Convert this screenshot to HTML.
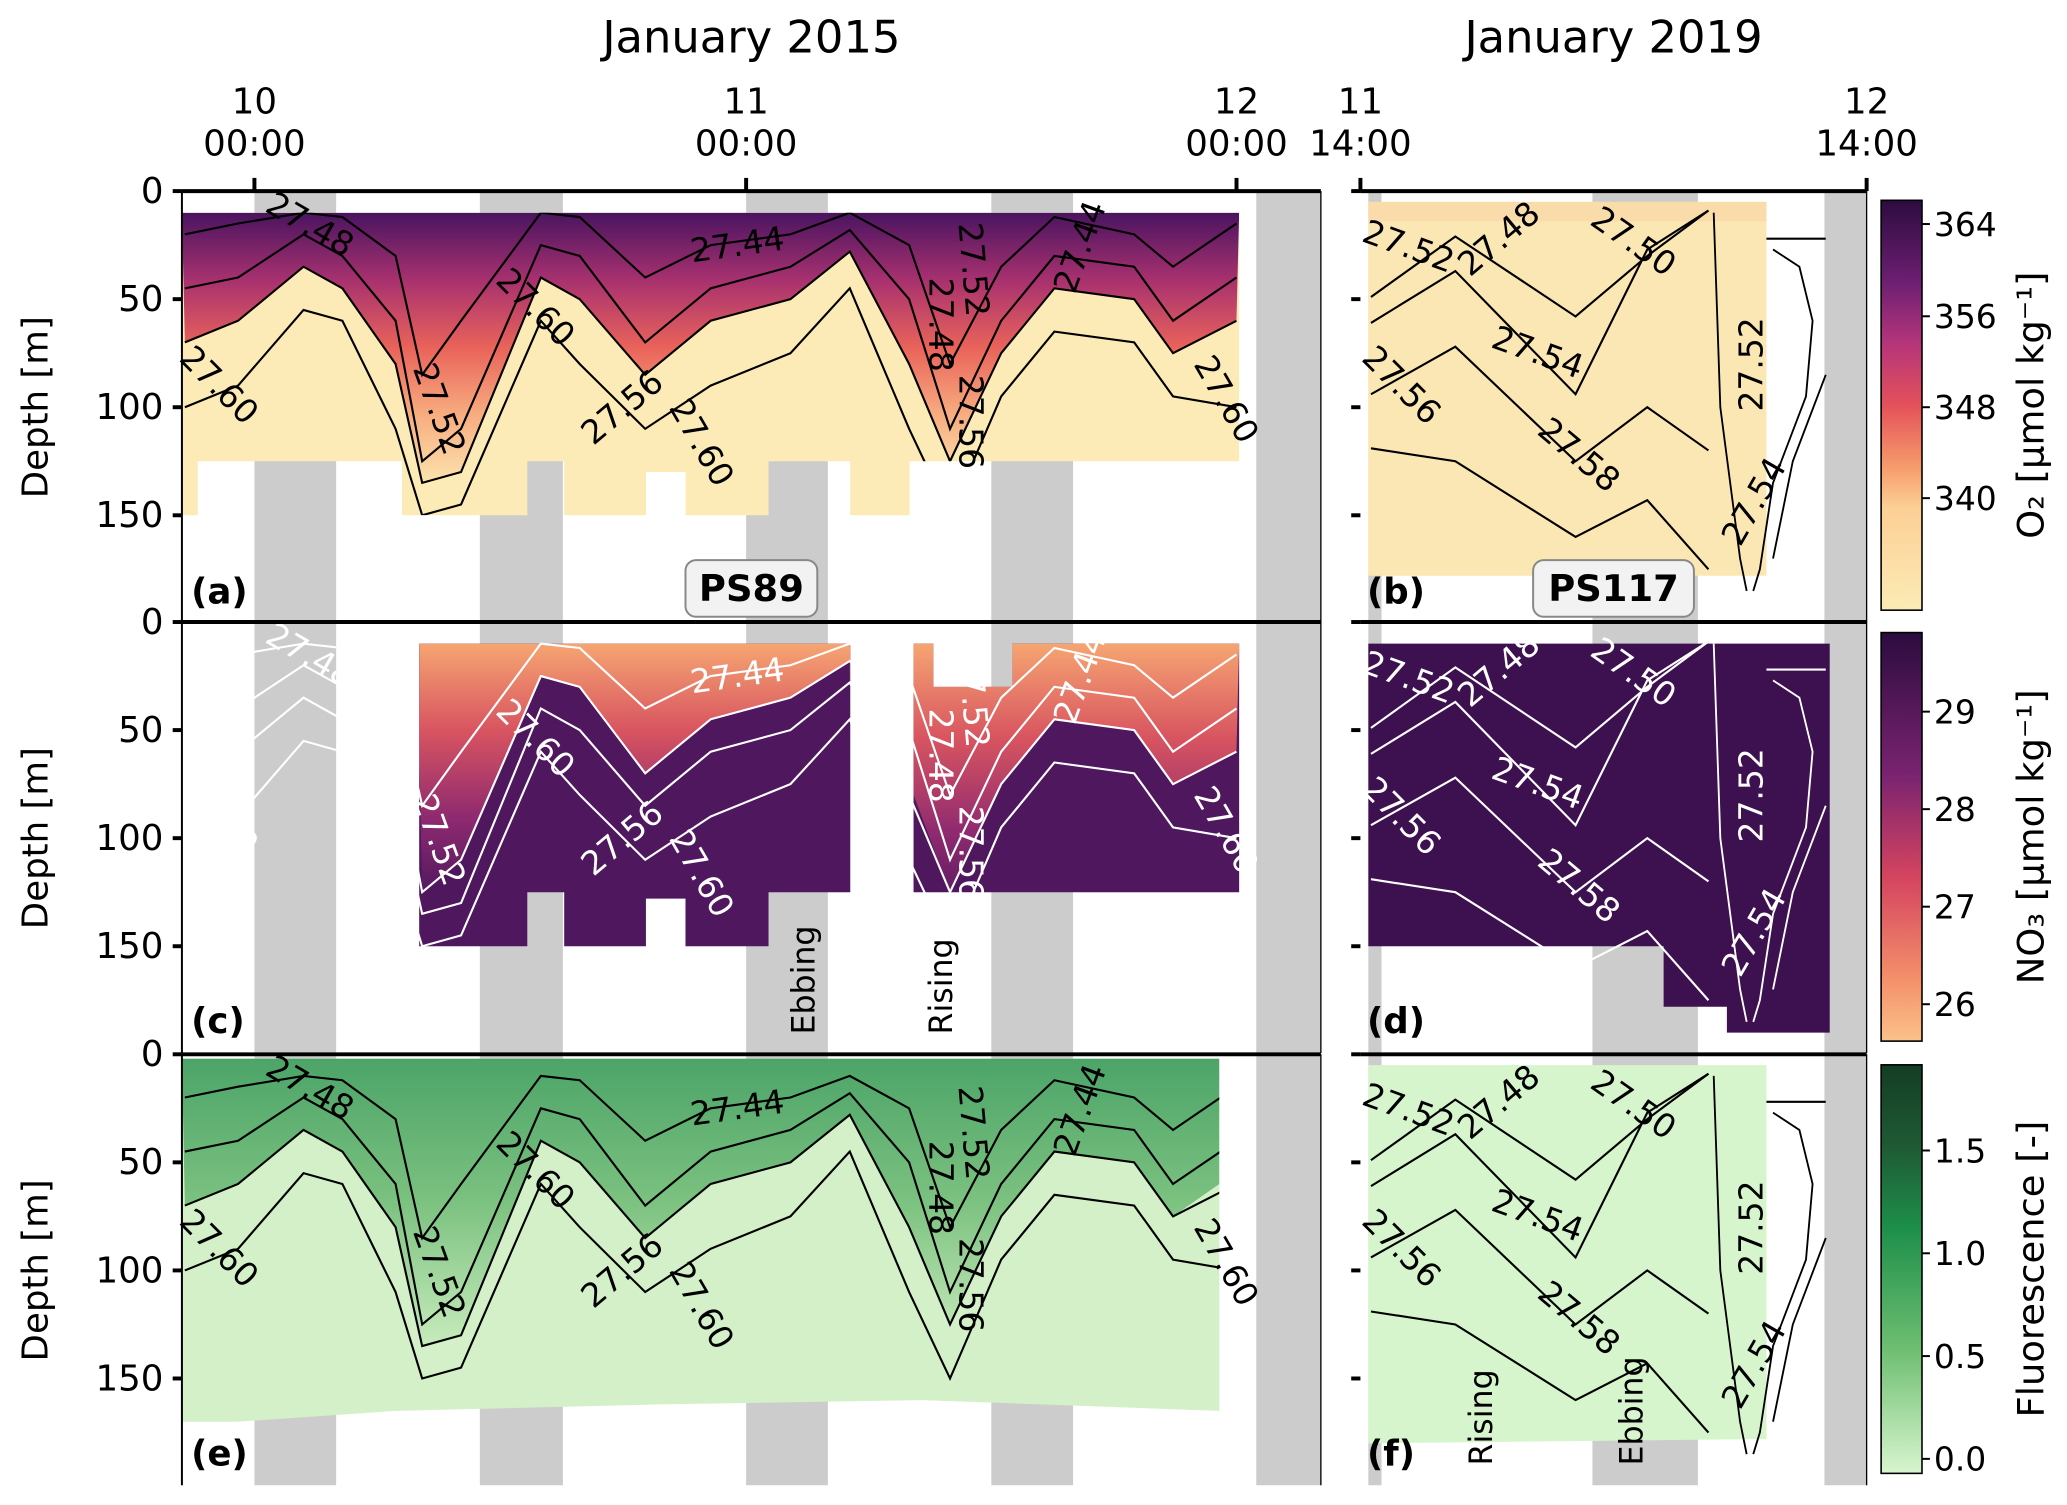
<!DOCTYPE html>
<html><head><meta charset="utf-8"><style>
html,body{margin:0;padding:0;background:#fff;}
svg{display:block;font-family:"DejaVu Sans","Liberation Sans",sans-serif;}
</style></head><body>
<svg id="fig" width="2067" height="1505" viewBox="0 0 1568 1142" preserveAspectRatio="none" xmlns="http://www.w3.org/2000/svg">
<defs>
<linearGradient id="gO2" x1="0" y1="0" x2="0" y2="1">
<stop offset="0" stop-color="#4a1460"/><stop offset="0.25" stop-color="#a8316f"/><stop offset="0.5" stop-color="#e9635a"/><stop offset="0.75" stop-color="#f8ad80"/><stop offset="1" stop-color="#fbe3ad"/></linearGradient>
<linearGradient id="gNO3" x1="0" y1="0" x2="0" y2="1">
<stop offset="0" stop-color="#f6a572"/><stop offset="0.35" stop-color="#d85460"/><stop offset="0.7" stop-color="#8f2a70"/><stop offset="1" stop-color="#531860"/></linearGradient>
<linearGradient id="gFl" x1="0" y1="0" x2="0" y2="1">
<stop offset="0" stop-color="#2a9150"/><stop offset="0.5" stop-color="#66b66e"/><stop offset="1" stop-color="#c4eab9"/></linearGradient>
<linearGradient id="cbO2" x1="0" y1="0" x2="0" y2="1">
<stop offset="0" stop-color="#2c0c3f"/><stop offset="0.2" stop-color="#6d1f72"/><stop offset="0.35" stop-color="#b5357a"/><stop offset="0.5" stop-color="#e4515a"/><stop offset="0.65" stop-color="#f69b6b"/><stop offset="0.75" stop-color="#fccf95"/><stop offset="1" stop-color="#fcebb5"/></linearGradient>
<linearGradient id="cbNO3" x1="0" y1="0" x2="0" y2="1">
<stop offset="0" stop-color="#2c0c3f"/><stop offset="0.35" stop-color="#7a2370"/><stop offset="0.6" stop-color="#d5445f"/><stop offset="0.85" stop-color="#f4906a"/><stop offset="1" stop-color="#fbc28a"/></linearGradient>
<linearGradient id="cbFl" x1="0" y1="0" x2="0" y2="1">
<stop offset="0" stop-color="#143d24"/><stop offset="0.2" stop-color="#1f5a34"/><stop offset="0.4" stop-color="#1d8f4a"/><stop offset="0.7" stop-color="#6fbf72"/><stop offset="1" stop-color="#d8f5cf"/></linearGradient>
</defs>
<g id="root"></g>
</svg>
<script>
// ---- data ----
const tL = [-3.4,-0.8,2.4,4.3,6.9,8.2,10.1,14,15.9,19.1,22.3,26.2,29.1,32,34,36.5,39.1,43,44.9,48];
const iso48 = [20,15,10,12,30,85,60,10,12,40,25,20,10,25,80,35,12,20,35,15];
const iso52 = [45,40,20,30,60,125,110,25,30,70,45,35,18,50,110,60,30,35,60,40];
const iso56 = [70,60,35,45,80,135,130,40,50,85,60,50,28,80,125,75,45,50,75,60];
const iso60 = [100,90,55,60,110,150,145,60,80,110,90,75,45,110,150,95,65,70,95,100];
const tR = [0.5,4.5,10.2,13.6,16.5];
const r50 = [49,21,58,30,9];
const r52 = [61,37,94,27,9];
const r54 = [94,72,125,100,120];
const r58 = [119,125,160,143,175];
const yTicks = [0,50,100,150];
const cbO2Ticks = ["364","356","348","340"];
const cbNO3Ticks = ["29","28","27","26"];
const cbFlTicks = ["1.5","1.0","0.5","0.0"];

const NS="http://www.w3.org/2000/svg";
const root=document.getElementById('root');
function el(tag,attrs,parent){const e=document.createElementNS(NS,tag);for(const k in attrs)e.setAttribute(k,attrs[k]);(parent||root).appendChild(e);return e;}
const xL=h=>193+h*15.52;
const xR=h=>1032+h*16;
const rows=[145,472,800];
const yD=(r,d)=>rows[r]+d*1.64;

function line(pts,color,w,name){const p=el('polyline',{points:pts.map(q=>q.join(',')).join(' '),fill:'none',stroke:color,'stroke-width':w});return p;}
function txt(x,y,s,size,opts){const t=el('text',Object.assign({x:x,y:y,'font-size':size},opts||{}));t.textContent=s;return t;}

// gray bands
const bandsL=[[193,255],[364,427],[566,628],[752,814],[953,1002]];
const bandsR=[[1038,1048],[1208,1288],[1384,1416]];
rows.forEach((y0,r)=>{
  bandsL.concat(bandsR).forEach(b=>{const g=el('rect',{x:b[0],y:y0,width:b[1]-b[0],height:327,fill:'#cccccc'});
  });
});

const botA=[[138,150],[150,125],[305,150],[400,125],[428,150],[490,130],[520,150],[583,125],[645,150],[690,125],[940,125]];
function stepPoly(r,x0,x1,topD,bot){let pts=[[x0,yD(r,topD)],[x1,yD(r,topD)]];
  for(let i=bot.length-1;i>=0;i--){const xa=bot[i][0],xb=i<bot.length-1?bot[i+1][0]:x1;pts.push([Math.min(xb,x1),yD(r,bot[i][1])],[Math.max(xa,x0),yD(r,bot[i][1])]);}
  return pts.filter(p=>p[0]>=x0&&p[0]<=x1);}
function poly(pts,fill,name){const p=el('polygon',{points:pts.map(q=>q.join(',')).join(' '),fill:fill});return p;}
function isoFill(r,iso,topD,xmin,xmax){const pts=[];tL.forEach((t,i)=>{const x=Math.max(xmin,Math.min(xmax,xL(t)));pts.push([x,yD(r,iso[i])]);});
  pts.push([xmax,yD(r,topD)],[xmin,yD(r,topD)]);return pts;}
function clip(id,pts){const c=el('clipPath',{id:id});el('polygon',{points:pts.map(q=>q.join(',')).join(' ')},c);}

// Panel a
const pa=stepPoly(0,138,940,10,botA);
clip('cA',pa);
poly(pa,'#fcebb6','o2-field-a');
const fa=poly(isoFill(0,iso56,10,138,940),'url(#gO2)','o2-upper-a');fa.setAttribute('clip-path','url(#cA)');
// Panel c
const botC1=[[318,150],[400,125],[428,150],[490,128],[520,150],[583,125],[645,125]];
const pc1=stepPoly(1,318,645,10,botC1);
const pc2=[[693,yD(1,10)],[708,yD(1,10)],[708,yD(1,30)],[768,yD(1,30)],[768,yD(1,10)],[940,yD(1,10)],[940,yD(1,125)],[693,yD(1,125)]];
clip('cC1',pc1);clip('cC2',pc2);
poly(pc1,'#4e175e','no3-field-c1');poly(pc2,'#4e175e','no3-field-c2');
let f=poly(isoFill(1,iso52,10,318,645),'url(#gNO3)','no3-upper-c1');f.setAttribute('clip-path','url(#cC1)');
f=poly(isoFill(1,iso56,10,693,940),'url(#gNO3)','no3-upper-c2');f.setAttribute('clip-path','url(#cC2)');
// Panel e
const pe=[[138,yD(2,2)],[925,yD(2,2)],[925,yD(2,165)],[700,yD(2,160)],[500,yD(2,162)],[300,yD(2,165)],[180,yD(2,170)],[138,yD(2,170)]];
clip('cE',pe);
poly(pe,'#d3f0c8','fluor-field-e');
f=poly(isoFill(2,iso56,2,138,925),'url(#gFl)','fluor-upper-e');f.setAttribute('clip-path','url(#cE)');f.setAttribute('opacity','0.8');
// right panels
poly([[1038,yD(0,5)],[1340,yD(0,5)],[1340,yD(0,178)],[1038,yD(0,178)]],'#fbe7b3','o2-field-b');
poly([[1038,yD(0,5)],[1340,yD(0,5)],[1340,yD(0,14)],[1038,yD(0,14)]],'#fadcaa','o2-top-b');
poly([[1038,yD(1,10)],[1388,yD(1,10)],[1388,yD(1,190)],[1310,yD(1,190)],[1310,yD(1,178)],[1262,yD(1,178)],[1262,yD(1,150)],[1038,yD(1,150)]],'#3d1150','no3-field-d');
poly([[1038,yD(2,5)],[1340,yD(2,5)],[1340,yD(2,178)],[1038,yD(2,180)]],'#d6f5cc','fluor-field-f');

// contours
const colL=['#000','#fff','#000'];
[0,1,2].forEach(r=>{
  const cp=r===0?'url(#cA)':r===2?'url(#cE)':null;
  [iso48,iso52,iso56,iso60].forEach((iso,k)=>{
    const pts=tL.map((t,i)=>[xL(t),yD(r,iso[i])]);
    const l=line(pts,colL[r],1.6,'isopycnal-left');
    if(cp)l.setAttribute('clip-path',cp);
  });
  [r50,r52,r54,r58].forEach(iso=>{
    line(tR.map((t,i)=>[xR(t),yD(r,iso[i])]),colL[r],1.6,'isopycnal-right');
  });
  line([[1340,yD(r,22)],[1385,yD(r,22)]],colL[r],1.6,'isopycnal-right-edge');
  line([[1345,yD(r,27)],[1365,yD(r,35)],[1375,yD(r,60)],[1370,yD(r,95)],[1345,yD(r,135)],[1335,yD(r,175)],[1330,yD(r,185)]],colL[r],1.4,'isopycnal-right-edge');
  line([[1385,yD(r,85)],[1360,yD(r,125)],[1345,yD(r,170)]],colL[r],1.4,'isopycnal-right-edge');
  line([[1300,yD(r,10)],[1305,yD(r,100)],[1320,yD(r,170)],[1325,yD(r,185)]],colL[r],1.4,'isopycnal-right-edge');
  const lc=colL[r];
  const L=[[525,33,'27.44',-8],[200,9,'27.48',30],[135,78,'27.60',45],[313,82,'27.52',70],[375,42,'27.60',45],[450,118,'27.56',-40],[507,100,'27.60',60],[705,40,'27.48',90],[727,15,'27.52',85],[728,85,'27.56',90],[905,80,'27.60',60],[815,48,'27.44',-70],
           [1032,23,'27.52',20],[1115,40,'27.48',-40],[1205,15,'27.50',35],[1130,72,'27.54',20],[1032,78,'27.56',45],[1165,112,'27.58',40],[1337,102,'27.52',-90],[1320,165,'27.54',-60]];
  L.forEach(a=>{const y=yD(r,a[1]);const t=txt(a[0],y,a[2],25,{fill:lc,transform:`rotate(${a[3]} ${a[0]} ${y})`});
    });
});

// axes and spines
rows.forEach((y0,r)=>{
  el('line',{x1:138,y1:y0,x2:1002,y2:y0,stroke:'#000','stroke-width':3});
  el('line',{x1:1032,y1:y0,x2:1416,y2:y0,stroke:'#000','stroke-width':3});
  el('line',{x1:138,y1:y0,x2:138,y2:y0+327,stroke:'#000','stroke-width':1.5});
  el('line',{x1:1002,y1:y0,x2:1002,y2:y0+327,stroke:'#000','stroke-width':1});
  el('line',{x1:1416,y1:y0,x2:1416,y2:y0+327,stroke:'#000','stroke-width':1});
  yTicks.forEach(v=>{const y=yD(r,v);
    el('line',{x1:131,y1:y,x2:138,y2:y,stroke:'#000','stroke-width':3});
    el('line',{x1:1025,y1:y,x2:1032,y2:y,stroke:'#000','stroke-width':3});
    const t=txt(124,y+9,String(v),27,{'text-anchor':'end'});});
  const yl=txt(36,y0+164,'Depth [m]',27,{'text-anchor':'middle',transform:`rotate(-90 36 ${y0+164})`});
  
});
[['(a)',145,458],['(b)',1037,458],['(c)',145,784],['(d)',1037,784],['(e)',145,1112],['(f)',1037,1112]].forEach(a=>{
  const t=txt(a[1],a[2],a[0],27,{'font-weight':'bold'});});
[[520,620,'PS89'],[1163,1285,'PS117']].forEach(b=>{
  const g=el('rect',{x:b[0],y:425,width:b[1]-b[0],height:43,rx:8,fill:'#f2f2f2',stroke:'#888','stroke-width':1.5});
  
  txt((b[0]+b[1])/2,456,b[2],28,{'text-anchor':'middle','font-weight':'bold'});
});
[[618,785,'Ebbing'],[722,785,'Rising'],[1132,1112,'Rising'],[1246,1112,'Ebbing']].forEach(a=>{
  const t=txt(a[0],a[1],a[2],24,{transform:`rotate(-90 ${a[0]} ${a[1]})`});});
[[193,'10'],[566,'11'],[938,'12']].forEach(a=>{
  el('line',{x1:a[0],y1:135,x2:a[0],y2:145,stroke:'#000','stroke-width':3});
  txt(a[0],86,a[1],27,{'text-anchor':'middle'});txt(a[0],118,'00:00',27,{'text-anchor':'middle'});});
[[1032,'11'],[1416,'12']].forEach(a=>{
  el('line',{x1:a[0],y1:135,x2:a[0],y2:145,stroke:'#000','stroke-width':3});
  txt(a[0],86,a[1],27,{'text-anchor':'middle'});txt(a[0],118,'14:00',27,{'text-anchor':'middle'});});
let tt=txt(570,40,'January 2015',34,{'text-anchor':'middle'});
tt=txt(1224,40,'January 2019',34,{'text-anchor':'middle'});
[[152,463,'cbO2',cbO2Ticks,[170,240,309,378],'O\u2082 [\u03bcmol kg\u207b\u00b9]'],
 [480,790,'cbNO3',cbNO3Ticks,[540,614,688,762],'NO\u2083 [\u03bcmol kg\u207b\u00b9]'],
 [808,1118,'cbFl',cbFlTicks,[873,951,1029,1107],'Fluorescence [-]']].forEach(c=>{
  const b=el('rect',{x:1427,y:c[0],width:31,height:c[1]-c[0],fill:`url(#${c[2]})`,stroke:'#000','stroke-width':1.2});
  
  c[3].forEach((s,i)=>{el('line',{x1:1458,y1:c[4][i],x2:1464,y2:c[4][i],stroke:'#000','stroke-width':1.5});
    txt(1467,c[4][i]+9,s,25);});
  const m=(c[0]+c[1])/2;
  const t=txt(1550,m,c[5],28,{'text-anchor':'middle',transform:`rotate(-90 1550 ${m})`});
  
});
</script>
</body></html>
